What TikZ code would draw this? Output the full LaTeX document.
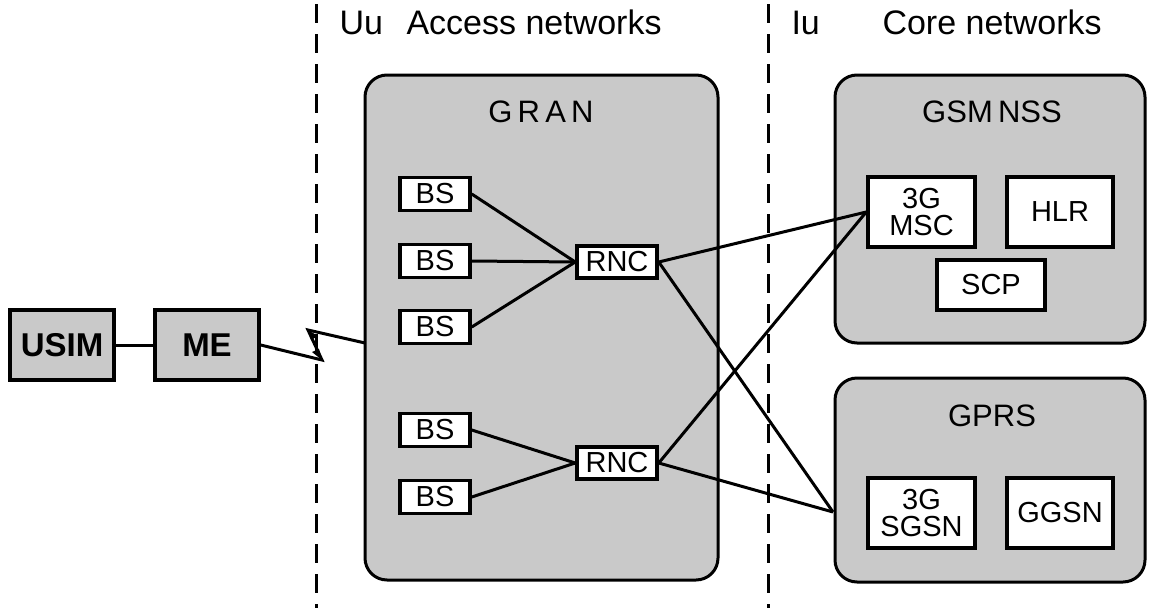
\documentclass[tikz,border=0pt]{standalone}
\usepackage{fontspec}
\setmainfont{Liberation Sans}
\usetikzlibrary{arrows.meta}
\begin{document}
\begin{tikzpicture}[x=1pt, y=-1pt,
  net/.style={draw, line width=3pt, fill=black!21, rounded corners=22pt,
              inner sep=0pt},
  unit/.style={draw, line width=3.5pt, fill=white, inner sep=0pt,
               font=\fontsize{29}{29}\selectfont},
  term/.style={draw, line width=3.5pt, fill=black!21, inner sep=0pt,
               minimum width=104pt, minimum height=70pt,
               font=\fontsize{33}{33}\selectfont\bfseries},
  title/.style={font=\fontsize{31}{31}\selectfont},
  head/.style={anchor=base west, font=\fontsize{34}{34}\selectfont},
  link/.style={line width=3pt},
  border/.style={line width=3pt, dash pattern=on 19pt off 11pt}]
\useasboundingbox (0,0) rectangle (1149,608);
% interfaces
\draw[border] (316,4) -- (316,608);
\draw[border] (768,4) -- (768,608);
\node[head] (uu) at (336,34) {Uu};
\node[head] (acc) at (403,34) {Access networks};
\node[head] (iu) at (788,34) {Iu};
\node[head] (core) at (879,34) {Core networks};
% user equipment
\node[term] (USIM) at (62,345) {USIM};
\node[term] (ME) at (207,345) {ME};
% access network
\node[net, minimum width=353pt, minimum height=505pt] (GRAN) at (541.5,327.5) {};
\node[title] (gran) at (541,112) {G\,R\,A\,N};
\path (365,343) coordinate (uuIn);
\foreach \n/\y in {BSa/194, BSb/261, BSc/327, BSd/430, BSe/497}
  \node[unit, minimum width=70pt, minimum height=33pt] (\n) at (435,\y) {BS};
\node[unit, minimum width=80pt, minimum height=32pt] (RNCa) at (617,262) {RNC};
\node[unit, minimum width=80pt, minimum height=32pt] (RNCb) at (617,463) {RNC};
% core networks
\node[net, minimum width=310pt, minimum height=268pt] (NSS) at (990,209) {};
\node[title] (nss) at (992,112) {GSM\,NSS};
\node[net, minimum width=310pt, minimum height=204pt] (GPRS) at (990,480) {};
\node[title] (gprs) at (992,416) {GPRS};
\node[unit, minimum width=107pt, minimum height=70pt, align=center,
      font=\fontsize{29}{27}\selectfont] (MSC) at (921.5,212) {3G\\MSC};
\node[unit, minimum width=106pt, minimum height=70pt] (HLR) at (1060,212) {HLR};
\node[unit, minimum width=108pt, minimum height=50pt] (SCP) at (991,285) {SCP};
\node[unit, minimum width=107pt, minimum height=70pt, align=center,
      font=\fontsize{29}{27}\selectfont] (SGSN) at (921.5,513) {3G\\SGSN};
\node[unit, minimum width=106pt, minimum height=70pt] (GGSN) at (1060,513) {GGSN};
\path (833,512) coordinate (gprsIn);
% links
\draw[link] (USIM) -- (ME);
\draw[link] (ME.east) -- (322,360) -- (308,330) -- (uuIn);
\fill (322,360) -- (312,352) -- (319,349) -- cycle;
\fill (308,330) -- (318,336) -- (311,340) -- cycle;
\foreach \i/\j in {BSa/RNCa, BSb/RNCa, BSc/RNCa, BSd/RNCb, BSe/RNCb}
  {\draw[link] (\i.east) -- (\j.west);}
\foreach \i/\j in {RNCa/MSC.west, RNCa/gprsIn, RNCb/MSC.west, RNCb/gprsIn}
  {\draw[link] (\i.east) -- (\j);}
\end{tikzpicture}
\end{document}
